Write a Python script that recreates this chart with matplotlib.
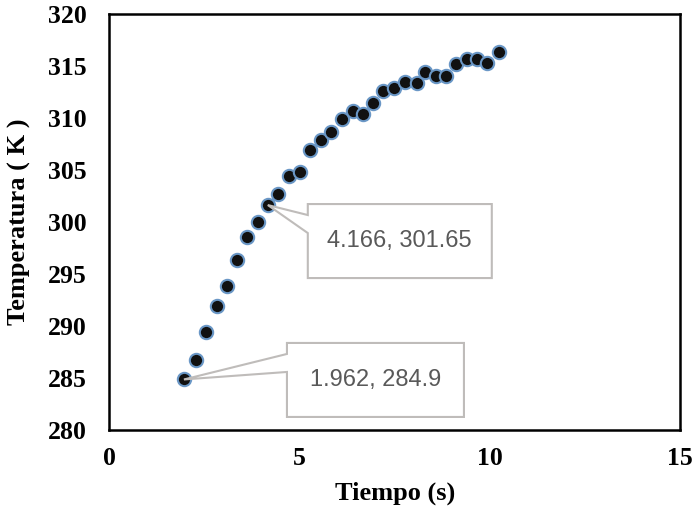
import matplotlib
matplotlib.use("Agg")
import matplotlib.pyplot as plt
import matplotlib.transforms as mtransforms
from matplotlib.patches import Polygon

# data
tiempo = [1.962, 2.28, 2.54, 2.84, 3.10, 3.36, 3.63, 3.92, 4.166, 4.44, 4.72,
          5.01, 5.27, 5.56, 5.84, 6.12, 6.40, 6.66, 6.94, 7.20, 7.49, 7.77,
          8.09, 8.30, 8.58, 8.85, 9.11, 9.39, 9.67, 9.94, 10.24]
temperatura = [284.9, 286.77, 289.43, 291.96, 293.88, 296.38, 298.62, 300.06,
               301.65, 302.69, 304.45, 304.86, 306.94, 307.91, 308.65, 309.89,
               310.72, 310.37, 311.43, 312.61, 312.87, 313.51, 313.41, 314.47,
               314.08, 314.08, 315.18, 315.66, 315.66, 315.33, 316.39]

# labelled points
etiquetas_x = [4.166, 1.962]
etiquetas_y = [301.65, 284.9]
etiquetas_txt = ["4.166, 301.65", "1.962, 284.9"]

xticks = [0, 5, 10, 15]
yticks = [280, 285, 290, 295, 300, 305, 310, 315, 320]

fig = plt.figure(figsize=(6.94, 5.14), dpi=100)
ax = fig.add_axes([0.1575, 0.1625, 0.8223, 0.8103])

ax.plot(tiempo, temperatura, linestyle="none", marker="o", markersize=9.6,
        markerfacecolor="#111111", markeredgecolor="#6a97c6",
        markeredgewidth=1.5, zorder=2)

ax.set_xlim(0, 15)
ax.set_ylim(280, 320)
ax.set_xticks(xticks)
ax.set_yticks(yticks)

tick_font = {"family": "Liberation Serif", "weight": "bold", "size": 18.5}
ax.set_xticklabels([str(t) for t in xticks], fontdict=tick_font)
ax.set_yticklabels([str(t) for t in yticks], fontdict=tick_font)
ax.tick_params(axis="both", length=0)
ax.tick_params(axis="x", pad=12)
ax.tick_params(axis="y", pad=16)

for sp in ax.spines.values():
    sp.set_linewidth(1.8)
    sp.set_color("black")

ax.set_xlabel("Tiempo (s)", fontdict={"family": "Liberation Serif",
                                      "weight": "bold", "size": 19})
ax.set_ylabel("Temperatura ( K )", fontdict={"family": "Liberation Serif",
                                             "weight": "bold", "size": 19})
ax.xaxis.set_label_coords(0.5, -0.122)
ax.yaxis.set_label_coords(-0.138, 0.5)

# callout shapes, in pixels relative to the labelled point (y up)
formas = [
    [(0, 0), (40, -10), (40, 1), (224, 1), (224, -73), (40, -73), (40, -28)],
    [(0, 0), (103, 7.5), (103, -37.5), (280, -37.5), (280, 36.5), (103, 36.5), (103, 25.5)],
]
centros = [(132, -36), (191.5, -0.5)]

escala = mtransforms.Affine2D().scale(fig.dpi / 100.0)
for xv, yv, txt, forma, c in zip(etiquetas_x, etiquetas_y, etiquetas_txt, formas, centros):
    tr = escala + mtransforms.ScaledTranslation(xv, yv, ax.transData)
    ax.add_patch(Polygon(forma, closed=True, transform=tr, facecolor="white",
                         edgecolor="#bfbcba", linewidth=1.5, zorder=3,
                         clip_on=False))
    ax.text(c[0], c[1], txt, transform=tr, ha="center", va="center",
            fontsize=17, family="Liberation Sans", color="#595959", zorder=4)

fig.savefig("out.png", dpi=100)
